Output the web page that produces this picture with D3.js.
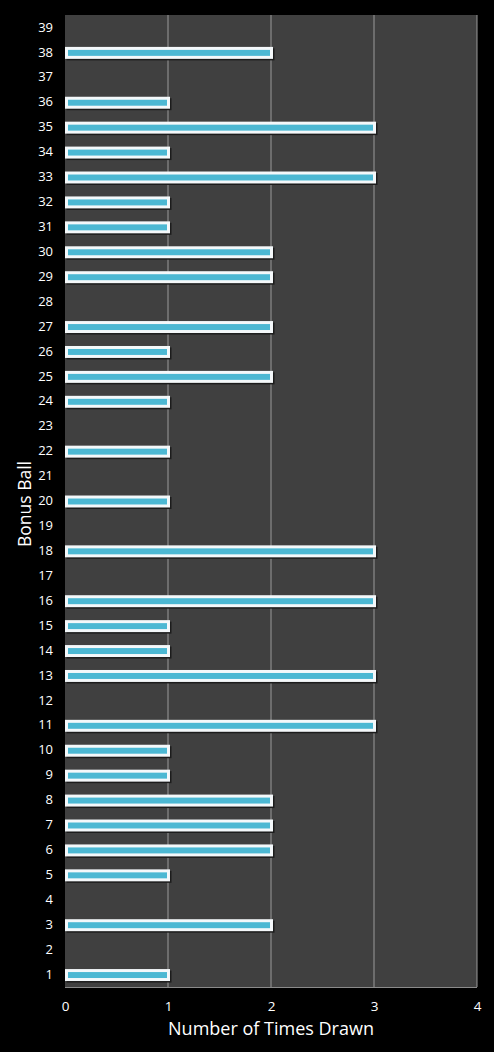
<!DOCTYPE html>
<html>
<head>
<meta charset="utf-8">
<script src="https://cdn.jsdelivr.net/npm/d3@7"></script>
<style>
  html, body { margin: 0; padding: 0; background: #000; }
  svg { display: block; }
  text { font-family: "Open Sans", "DejaVu Sans", sans-serif; fill: #fff; }
</style>
</head>
<body>
<div id="chart"></div>
<script>
// bonus ball numbers, bottom to top
const balls = d3.range(1, 40).map(String);
// how many times each ball was drawn
const timesDrawn = [1, 0, 2, 0, 1, 2, 2, 2, 1, 1,
                    3, 0, 3, 1, 1, 3, 0, 3, 0, 1,
                    0, 1, 0, 1, 2, 1, 2, 0, 2, 2,
                    1, 1, 3, 1, 3, 1, 0, 2, 0];
const xTicks = [0, 1, 2, 3, 4];

const W = 494, H = 1052;
const margin = { top: 15, right: 17, bottom: 65, left: 65 };
const width = W - margin.left - margin.right;
const height = H - margin.top - margin.bottom;

const data = balls.map((b, i) => ({ ball: b, count: timesDrawn[i] }));

const svg = d3.select('#chart')
    .append('svg')
    .attr('width', W)
    .attr('height', H);

const g = svg.append('g')
    .attr('transform', `translate(${margin.left},${margin.top})`);

const xScale = d3.scaleLinear().domain([0, 4]).range([0, width]);
const yScale = d3.scaleBand()
    .domain(balls.slice().reverse())
    .range([0, height])
    .paddingInner(0.52)
    .paddingOuter(0.26);

// plot background
g.append('rect')
    .attr('width', width)
    .attr('height', height)
    .attr('fill', '#404040');

// vertical gridlines
g.append('g')
    .selectAll('line')
    .data(xTicks.slice(1))
    .enter()
    .append('line')
    .attr('x1', d => xScale(d))
    .attr('x2', d => xScale(d))
    .attr('y1', 0)
    .attr('y2', height)
    .attr('stroke', '#9a9a9a')
    .attr('stroke-width', 1);

// bottom border
g.append('line')
    .attr('x1', 0).attr('x2', width)
    .attr('y1', height + 0.5).attr('y2', height + 0.5)
    .attr('stroke', '#8a8a8a');

// bars: shadow, white outline, blue fill
const bars = g.selectAll('.bar')
    .data(data.filter(d => d.count > 0))
    .enter()
    .append('g')
    .attr('class', 'bar');

bars.append('rect')
    .attr('x', 1.5)
    .attr('y', d => yScale(d.ball) + 2)
    .attr('width', d => xScale(d.count) + 2)
    .attr('height', yScale.bandwidth())
    .attr('fill', '#1c1c1c');

bars.append('rect')
    .attr('x', 0)
    .attr('y', d => yScale(d.ball) + 0.5)
    .attr('width', d => xScale(d.count) + 2)
    .attr('height', yScale.bandwidth())
    .attr('fill', '#f4f8fa');

bars.append('rect')
    .attr('x', 3)
    .attr('y', d => yScale(d.ball) + 3.5)
    .attr('width', d => xScale(d.count) - 4)
    .attr('height', yScale.bandwidth() - 6)
    .attr('fill', '#4cb8d3');

// x axis
const xAxis = g.append('g')
    .attr('transform', `translate(0,${height})`)
    .call(d3.axisBottom(xScale).tickValues(xTicks).tickSize(0).tickPadding(14).tickFormat(d3.format('d')));
xAxis.select('.domain').remove();
xAxis.selectAll('text').attr('font-size', 13.5).attr('fill', '#fff');

// y axis
const yAxis = g.append('g')
    .call(d3.axisLeft(yScale).tickSize(0).tickPadding(12));
yAxis.select('.domain').remove();
yAxis.selectAll('text').attr('font-size', 13).attr('fill', '#fff');

// axis titles
svg.append('text')
    .attr('x', margin.left + width / 2)
    .attr('y', 1035)
    .attr('text-anchor', 'middle')
    .attr('font-size', 18)
    .text('Number of Times Drawn');

svg.append('text')
    .attr('transform', `translate(31,${margin.top + height / 2 + 3}) rotate(-90)`)
    .attr('text-anchor', 'middle')
    .attr('font-size', 17.5)
    .text('Bonus Ball');
</script>
</body>
</html>
